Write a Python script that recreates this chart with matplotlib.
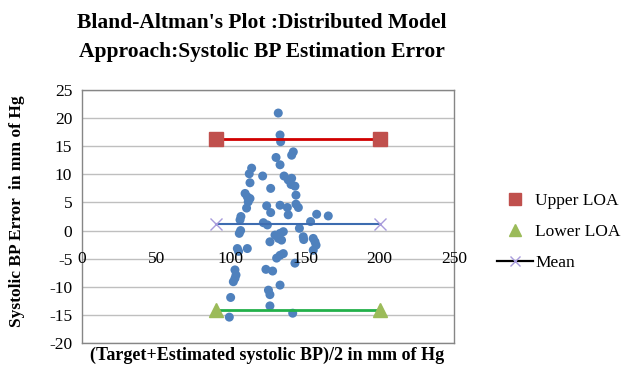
import matplotlib
matplotlib.use("Agg")
import matplotlib.pyplot as plt
from matplotlib.lines import Line2D

# mean of (target, estimated) systolic BP vs. estimation error, mm of Hg
bp_mean = [131.9, 133.1, 133.5, 142.0, 140.9, 130.4, 133.1, 114.0, 112.4, 121.4,
           135.8, 138.6, 140.9, 112.9, 140.5, 143.1, 126.8, 109.6, 111.1, 112.9,
           143.8, 111.7, 110.6, 124.1, 126.8, 133.1, 138.0, 138.6, 143.8, 145.4,
           106.8, 106.2, 157.7, 165.5, 153.6, 121.9, 124.6, 146.1, 106.6, 105.7,
           129.7, 133.1, 135.3, 132.0, 134.1, 148.7, 149.0, 155.4, 156.6, 157.3,
           155.4, 126.3, 104.4, 105.2, 111.1, 133.1, 135.3, 130.8, 143.1, 102.8,
           103.5, 123.6, 128.1, 101.7, 102.8, 133.1, 125.3, 126.3, 99.9, 126.3,
           141.6, 99.0]
bp_error = [20.9, 17.0, 15.8, 14.0, 13.4, 13.0, 11.7, 11.1, 10.1, 9.7,
            9.7, 9.0, 9.3, 8.5, 8.2, 7.9, 7.5, 6.6, 6.0, 5.7,
            6.3, 5.1, 4.0, 4.4, 3.2, 4.5, 4.1, 2.8, 4.7, 4.1,
            2.5, 1.9, 2.9, 2.6, 1.6, 1.4, 1.0, 0.4, 0.0, -0.5,
            -0.8, -0.5, -0.2, -1.4, -1.7, -1.1, -1.6, -1.4, -2.0, -2.6,
            -3.5, -2.0, -3.2, -3.7, -3.2, -4.4, -4.1, -4.9, -5.8, -7.0,
            -7.9, -6.9, -7.2, -9.1, -8.5, -9.7, -10.6, -11.4, -11.9, -13.4,
            -14.7, -15.4]

loa_x = [90, 200]
upper_loa = 16.3
lower_loa = -14.1
mean_err = 1.15

x_ticks = [0, 50, 100, 150, 200, 250]
y_ticks = list(range(-20, 30, 5))

serif = "Liberation Serif"
plt.rcParams["font.family"] = serif

fig = plt.figure(figsize=(6.27, 3.67), dpi=100)
ax = fig.add_axes([82 / 627, 24 / 367, 372 / 627, 253 / 367])

for y in y_ticks:
    ax.axhline(y, color="#bfbfbf", lw=1.0, zorder=0)

ax.scatter(bp_mean, bp_error, s=42, color="#4f81bd", edgecolors="none", zorder=3)

ax.plot(loa_x, [upper_loa] * 2, color="#d00000", lw=2.0, zorder=4)
ax.plot(loa_x, [upper_loa] * 2, ls="none", marker="s", ms=10, color="#c0504d", zorder=5)
ax.plot(loa_x, [lower_loa] * 2, color="#22b04a", lw=2.0, zorder=4)
ax.plot(loa_x, [lower_loa] * 2, ls="none", marker="^", ms=10, color="#9bbb59", zorder=5)
ax.plot(loa_x, [mean_err] * 2, color="#3d6cb0", lw=1.5, zorder=4)
ax.plot(loa_x, [mean_err] * 2, ls="none", marker="x", ms=8, mew=1.0, color="#a89bdc", zorder=5)

ax.set_xlim(0, 250)
ax.set_ylim(-20, 25)
ax.set_yticks(y_ticks)
ax.set_yticklabels([str(v) for v in y_ticks], fontsize=12.5)
ax.set_xticks(x_ticks)
ax.set_xticklabels([])
ax.tick_params(length=0, pad=7)
# Excel puts the category labels against the y = -5 line
for t in x_ticks:
    ax.text(t, -5, str(t), ha="center", va="center", fontsize=12.5, zorder=6)

for s in ax.spines.values():
    s.set_color("#868686")
    s.set_linewidth(1.0)

fig.text(262 / 627, 1 - 38 / 367,
         "Bland-Altman's Plot :Distributed Model\nApproach:Systolic BP Estimation Error",
         ha="center", va="center", fontsize=15.5, fontweight="bold", linespacing=1.6)
fig.text(17 / 627, 1 - 211 / 367, "Systolic BP Error  in mm of Hg",
         rotation=90, ha="center", va="center", fontsize=12.5, fontweight="bold")
fig.text(267 / 627, 1 - 355 / 367, "(Target+Estimated systolic BP)/2 in mm of Hg",
         ha="center", va="center", fontsize=13, fontweight="bold")

handles = [
    Line2D([], [], ls="none", marker="s", ms=9, color="#c0504d"),
    Line2D([], [], ls="none", marker="^", ms=9, color="#9bbb59"),
    Line2D([], [], color="black", lw=1.6, marker="x", ms=7, mew=1.0,
           markeredgecolor="#a89bdc"),
]
fig.legend(handles, ["Upper LOA", "Lower LOA", "Mean"], loc="upper left",
           bbox_to_anchor=(497 / 627, 1 - 193 / 367), frameon=False,
           fontsize=12.5, handlelength=2.1, handletextpad=0.1,
           labelspacing=0.85, borderpad=0, borderaxespad=0)

fig.savefig("out.png", dpi=100)
